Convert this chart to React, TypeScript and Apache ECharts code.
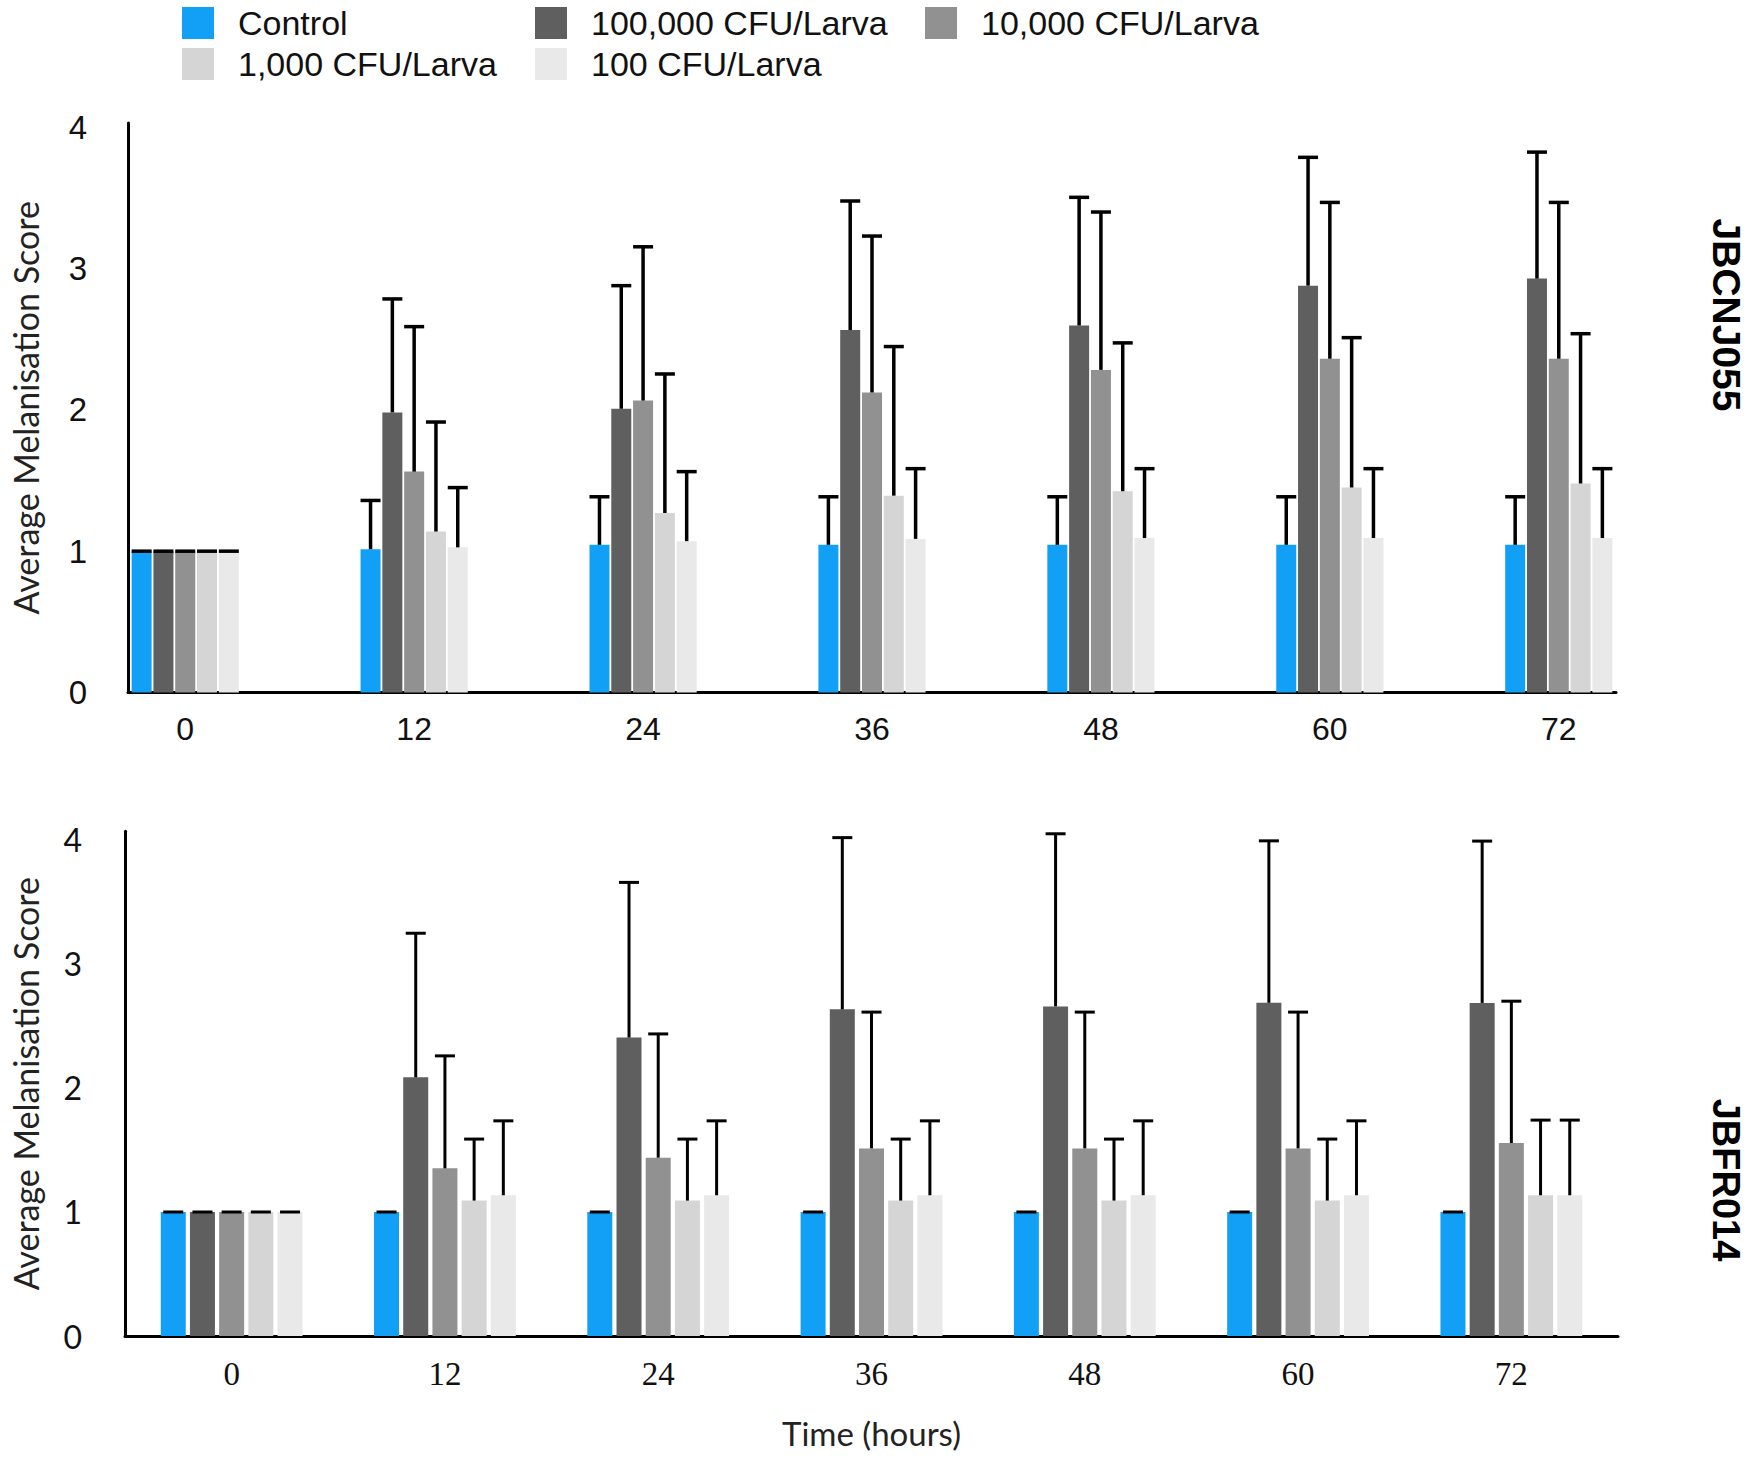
import React, { useEffect, useRef } from 'react';
import * as echarts from 'echarts';

const hours = [0, 12, 24, 36, 48, 60, 72];
const hourLabels = [0, 12, 24, 36, 48, 60, 72];
const yTicks = [0, 1, 2, 3, 4];

const groupNames = ['Control', '100,000 CFU/Larva', '10,000 CFU/Larva', '1,000 CFU/Larva', '100 CFU/Larva'];
const groupColors = ['#12A0F7', '#5F5F5F', '#919191', '#D5D5D5', '#E9E9E9'];

// JBCNJ055 (top panel) means and SDs
const topControl = [1.0, 1.014, 1.045, 1.045, 1.045, 1.045, 1.045];
const top100k = [1.0, 1.982, 2.008, 2.565, 2.597, 2.879, 2.929];
const top10k = [1.0, 1.563, 2.066, 2.123, 2.283, 2.362, 2.362];
const top1k = [1.0, 1.139, 1.27, 1.393, 1.424, 1.45, 1.479];
const top100 = [1.0, 1.027, 1.071, 1.087, 1.093, 1.093, 1.093];

const topControlSd = [0, 0.345, 0.34, 0.34, 0.34, 0.34, 0.34];
const top100kSd = [0, 0.803, 0.871, 0.913, 0.907, 0.908, 0.895];
const top10kSd = [0, 1.026, 1.088, 1.107, 1.117, 1.106, 1.106];
const top1kSd = [0, 0.775, 0.984, 1.055, 1.05, 1.061, 1.06];
const top100Sd = [0, 0.423, 0.492, 0.497, 0.491, 0.491, 0.491];

// JBFR014 (bottom panel) means and SDs
const botControl = [1.0, 1.0, 1.0, 1.0, 1.0, 1.0, 1.0];
const bot100k = [1.0, 2.086, 2.407, 2.634, 2.658, 2.687, 2.686];
const bot10k = [1.0, 1.352, 1.438, 1.513, 1.513, 1.513, 1.556];
const bot1k = [1.0, 1.092, 1.092, 1.092, 1.092, 1.092, 1.135];
const bot100 = [1.0, 1.135, 1.135, 1.135, 1.135, 1.135, 1.135];

const botControlSd = [0, 0, 0, 0, 0, 0, 0];
const bot100kSd = [0, 1.162, 1.251, 1.385, 1.392, 1.306, 1.305];
const bot10kSd = [0, 0.907, 0.998, 1.099, 1.099, 1.099, 1.144];
const bot1kSd = [0, 0.496, 0.496, 0.496, 0.496, 0.496, 0.606];
const bot100Sd = [0, 0.6, 0.6, 0.6, 0.6, 0.6, 0.606];

const topMeans = [topControl, top100k, top10k, top1k, top100];
const topSds = [topControlSd, top100kSd, top10kSd, top1kSd, top100Sd];
const botMeans = [botControl, bot100k, bot10k, bot1k, bot100];
const botSds = [botControlSd, bot100kSd, bot10kSd, bot1kSd, bot100Sd];

function buildSeries(
  means: number[][],
  sds: number[][],
  axisIndex: number,
  barWidth: number,
  gapRatio: number,
  capW: number,
  lineW: number
) {
  const out: any[] = [];
  means.forEach((m, i) => {
    out.push({
      type: 'bar',
      name: groupNames[i],
      xAxisIndex: axisIndex,
      yAxisIndex: axisIndex,
      data: hours.map((h, k) => [h, m[k]]),
      barWidth,
      barGap: gapRatio * 100 + '%',
      itemStyle: { color: groupColors[i] },
      z: 2,
    });
  });
  const step = barWidth * (1 + gapRatio);
  means.forEach((m, i) => {
    out.push({
      type: 'custom',
      name: 'err_' + axisIndex + '_' + i,
      xAxisIndex: axisIndex,
      yAxisIndex: axisIndex,
      data: hours.map((h, k) => [h, m[k], m[k] + sds[i][k]]),
      encode: { x: 0, y: [1, 2] },
      z: 5,
      renderItem: (params: any, api: any) => {
        const x = api.value(0);
        const lo = api.coord([x, api.value(1)]);
        const hi = api.coord([x, api.value(2)]);
        const cx = lo[0] + (i - 2) * step;
        return {
          type: 'group',
          children: [
            {
              type: 'line',
              shape: { x1: cx, y1: lo[1], x2: cx, y2: hi[1] },
              style: { stroke: '#000', lineWidth: lineW },
            },
            {
              type: 'line',
              shape: { x1: cx - capW / 2, y1: hi[1], x2: cx + capW / 2, y2: hi[1] },
              style: { stroke: '#000', lineWidth: lineW },
            },
          ],
        };
      },
    });
  });
  return out;
}

const legendPositions = [
  { left: 182, top: 6 },
  { left: 535, top: 6 },
  { left: 925, top: 6 },
  { left: 182, top: 47 },
  { left: 535, top: 47 },
];

export default function App() {
  const ref = useRef<HTMLDivElement>(null);

  useEffect(() => {
    if (!ref.current) return;
    const chart = echarts.init(ref.current, undefined, { renderer: 'svg' });

    const axisLine = { show: true, onZero: false, lineStyle: { color: '#000', width: 3 } };

    const option: any = {
      animation: false,
      backgroundColor: '#fff',
      legend: groupNames.map((n, i) => ({
        data: [{ name: n, icon: 'rect' }],
        left: legendPositions[i].left,
        top: legendPositions[i].top,
        padding: 0,
        itemWidth: 32,
        itemHeight: 32,
        selectedMode: false,
        textStyle: {
          fontFamily: 'Liberation Sans',
          fontSize: 34,
          color: '#111',
          padding: [0, 0, 0, 19],
        },
      })),
      grid: [
        { left: 128, top: 123, width: 1488, height: 569.5 },
        { left: 125, top: 831.3, width: 1493, height: 504.7 },
      ],
      xAxis: [
        {
          type: 'value',
          gridIndex: 0,
          min: -3,
          max: 75,
          axisLine,
          axisTick: { show: false },
          splitLine: { show: false },
          axisLabel: {
            customValues: hourLabels,
            fontFamily: 'Liberation Sans',
            fontSize: 32,
            color: '#111',
            margin: 20,
          },
        },
        {
          type: 'value',
          gridIndex: 1,
          min: -6,
          max: 78,
          axisLine,
          axisTick: { show: false },
          splitLine: { show: false },
          axisLabel: {
            customValues: hourLabels,
            fontFamily: 'Liberation Serif',
            fontSize: 33,
            color: '#111',
            margin: 21,
          },
          name: 'Time (hours)',
          nameLocation: 'middle',
          nameGap: 80,
          nameTextStyle: { fontFamily: 'Lato', fontSize: 33, color: '#222' },
        },
      ],
      yAxis: [
        {
          type: 'value',
          gridIndex: 0,
          min: 0,
          max: 4.03,
          interval: 1,
          axisLine,
          axisTick: { show: false },
          splitLine: { show: false },
          axisLabel: {
            customValues: yTicks,
            fontFamily: 'Liberation Sans',
            fontSize: 33,
            color: '#111',
            margin: 41,
          },
          name: 'Average Melanisation Score',
          nameLocation: 'middle',
          nameGap: 86,
          nameTextStyle: { fontFamily: 'Lato', fontSize: 34, color: '#222' },
        },
        {
          type: 'value',
          gridIndex: 1,
          min: 0,
          max: 4.07,
          interval: 1,
          axisLine,
          axisTick: { show: false },
          splitLine: { show: false },
          axisLabel: {
            customValues: yTicks,
            fontFamily: 'Lato',
            fontSize: 32,
            color: '#111',
            margin: 43,
          },
          name: 'Average Melanisation Score',
          nameLocation: 'middle',
          nameGap: 83,
          nameTextStyle: { fontFamily: 'Lato', fontSize: 34, color: '#222' },
        },
      ],
      graphic: [
        {
          type: 'text',
          x: 1726,
          y: 315,
          rotation: -Math.PI / 2,
          style: {
            text: 'JBCNJ055',
            fontFamily: 'Liberation Sans',
            fontWeight: 'bold',
            fontSize: 39,
            fill: '#000',
            align: 'center',
            verticalAlign: 'middle',
          },
        },
        {
          type: 'text',
          x: 1726,
          y: 1180,
          rotation: -Math.PI / 2,
          style: {
            text: 'JBFR014',
            fontFamily: 'Liberation Sans',
            fontWeight: 'bold',
            fontSize: 38,
            fill: '#000',
            align: 'center',
            verticalAlign: 'middle',
          },
        },
      ],
      series: [
        ...buildSeries(topMeans, topSds, 0, 20, 0.09, 20, 3.5),
        ...buildSeries(botMeans, botSds, 1, 25, 0.168, 20, 3),
      ],
    };

    chart.setOption(option);
    return () => chart.dispose();
  }, []);

  return (
    <div
      ref={ref}
      style={{ position: 'absolute', left: 0, top: 0, width: 1750, height: 1461, background: '#fff' }}
    />
  );
}
